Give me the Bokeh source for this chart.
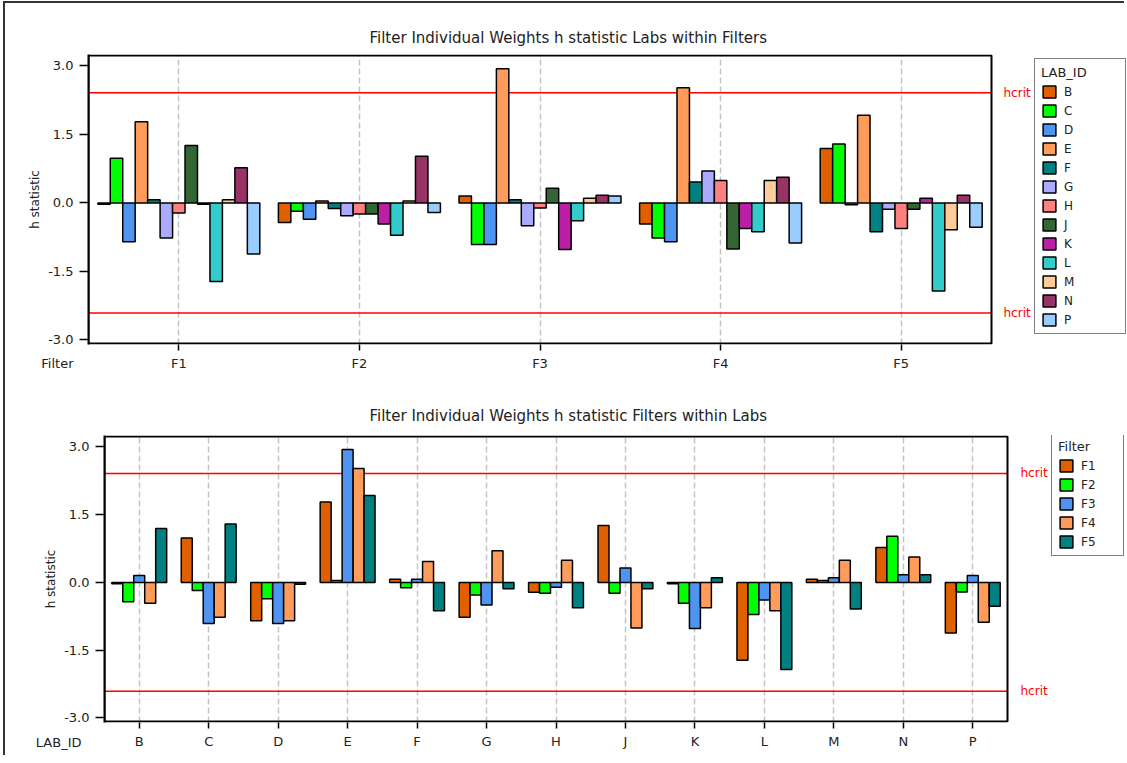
from bokeh.plotting import figure
from bokeh.models import (Range1d, FixedTicker, Legend, Title, Label, BoxAnnotation,
                          LegendItem, CustomJSTickFormatter, PrintfTickFormatter,
                          ColumnDataSource)
from bokeh.transform import dodge
from bokeh.embed import file_html
from bokeh.resources import INLINE

# ---------------- data ----------------
filters = ["F1", "F2", "F3", "F4", "F5"]
labs = ["B", "C", "D", "E", "F", "G", "H", "J", "K", "L", "M", "N", "P"]

# h statistic per lab, in filter order F1..F5
h_B = [-0.03, -0.43, 0.15, -0.46, 1.19]
h_C = [0.98, -0.18, -0.91, -0.77, 1.29]
h_D = [-0.85, -0.36, -0.91, -0.85, -0.04]
h_E = [1.78, 0.04, 2.94, 2.52, 1.92]
h_F = [0.07, -0.12, 0.07, 0.46, -0.63]
h_G = [-0.77, -0.28, -0.50, 0.70, -0.14]
h_H = [-0.22, -0.24, -0.11, 0.49, -0.56]
h_J = [1.26, -0.24, 0.32, -1.01, -0.14]
h_K = [-0.03, -0.46, -1.02, -0.56, 0.10]
h_L = [-1.72, -0.71, -0.39, -0.63, -1.93]
h_M = [0.07, 0.04, 0.10, 0.49, -0.59]
h_N = [0.77, 1.02, 0.17, 0.56, 0.17]
h_P = [-1.12, -0.21, 0.15, -0.88, -0.53]

hcrit = 2.41
y_ticks = [-3.0, -1.5, 0.0, 1.5, 3.0]

title_top = "Filter Individual Weights  h statistic Labs within Filters"
title_bottom = "Filter Individual Weights  h statistic Filters within Labs"

lab_colors = ["#E06000", "#00FF00", "#4F94F0", "#FF9C5C", "#008080", "#AAAAFF",
              "#FF8080", "#336633", "#BB1FA6", "#33CCCC", "#FFCC99", "#993366", "#99CCFF"]

lab_values = [h_B, h_C, h_D, h_E, h_F, h_G, h_H, h_J, h_K, h_L, h_M, h_N, h_P]

FONT = "DejaVu Sans"
TXT = "#222222"
Y0, Y1 = -3.1, 3.25
FIG_W = 1121
BOX_PX = 903          # width of the drawn plot box in pixels


def build(cats, series, values, colors, bar_w, legend_title, legend_label_w, legend_xy,
          frame_left, fig_h, b_top, b_bottom, title, title_off, title_standoff,
          caption, cap_x, cap_y, hcrit_off):
    ncat = len(cats)
    x_end = ncat * (FIG_W - frame_left) / BOX_PX
    p = figure(width=FIG_W, height=fig_h, x_range=Range1d(0, x_end),
               y_range=Range1d(Y0, Y1), title=None, output_backend="svg",
               toolbar_location=None, min_border_left=frame_left, min_border_right=0,
               min_border_top=b_top, min_border_bottom=b_bottom)
    p.outline_line_color = None
    p.ygrid.grid_line_color = None
    centers = [k + 0.5 for k in range(ncat)]

    # axes
    p.xaxis.ticker = FixedTicker(ticks=centers)
    p.xaxis.formatter = CustomJSTickFormatter(args=dict(names=cats),
                                              code="return names[Math.round(tick - 0.5)]")
    p.yaxis.ticker = FixedTicker(ticks=y_ticks)
    p.yaxis.formatter = PrintfTickFormatter(format="%.1f")
    for ax in (p.xaxis[0], p.yaxis[0]):
        ax.major_tick_line_color = "black"
        ax.major_tick_line_width = 1.5
        ax.major_tick_in = 0
        ax.minor_tick_line_color = None
        ax.major_label_text_font = FONT
        ax.major_label_text_font_size = "13px"
        ax.major_label_text_color = TXT
    p.xaxis.axis_line_color = None
    p.yaxis.axis_line_color = "black"
    p.yaxis.axis_line_width = 2
    p.yaxis.major_tick_out = 9
    p.yaxis.major_label_standoff = 6
    p.xaxis.major_tick_out = 6
    p.xaxis.major_label_standoff = 5
    p.yaxis.axis_label = "h statistic"
    p.yaxis.axis_label_text_font = FONT
    p.yaxis.axis_label_text_font_size = "12px"
    p.yaxis.axis_label_text_font_style = "normal"
    p.yaxis.axis_label_standoff = 3
    p.yaxis.axis_label_text_color = TXT

    # dashed category grid
    p.xgrid.ticker = FixedTicker(ticks=centers)
    p.xgrid.grid_line_color = "#c4c4c4"
    p.xgrid.grid_line_dash = "6 3"
    p.xgrid.grid_line_width = 1.5

    # critical value lines
    p.segment(x0=[0, 0], x1=[ncat, ncat], y0=[hcrit, -hcrit], y1=[hcrit, -hcrit],
              line_color="red", line_width=1.5)
    for v in (hcrit, -hcrit):
        p.add_layout(Label(x=ncat, y=v, x_offset=hcrit_off, text="hcrit",
                           text_align="left", text_baseline="middle", text_color="red",
                           text_font=FONT, text_font_size="12px"))

    # bars
    data = dict(xc=centers)
    for s, name in enumerate(series):
        data[name] = [values(s, k) for k in range(ncat)]
    src = ColumnDataSource(data)
    mid = (len(series) - 1) / 2
    items = []
    for s, name in enumerate(series):
        r = p.vbar(x=dodge("xc", (s - mid) * bar_w), top=name, bottom=0, width=bar_w,
                   source=src, fill_color=colors[s], line_color="black", line_width=1.5)
        items.append(LegendItem(label=name, renderers=[r]))

    # plot box
    p.add_layout(BoxAnnotation(left=0, right=ncat, bottom=Y0 + 0.02, top=Y1 - 0.02,
                               fill_color=None, fill_alpha=0, line_color="black",
                               line_alpha=1.0, line_width=2))

    p.add_layout(Legend(items=items, location=legend_xy, title=legend_title,
                        title_text_font=FONT, title_text_font_size="13px",
                        title_text_font_style="normal", title_text_color=TXT,
                        title_standoff=4, label_text_font=FONT, label_text_font_size="12px",
                        label_text_color=TXT, glyph_width=16, glyph_height=15,
                        label_height=15, label_width=legend_label_w, label_standoff=7,
                        spacing=4, padding=6, margin=0, border_line_color="black",
                        border_line_width=1.5, background_fill_color="white",
                        background_fill_alpha=1.0))

    p.add_layout(Title(text=title, align="left", offset=title_off, standoff=title_standoff,
                       text_font=FONT, text_font_size="15px", text_font_style="normal",
                       text_color=TXT), "above")
    p.add_layout(Label(text=caption, x=cap_x, y=cap_y, x_units="screen", y_units="screen",
                       text_align="right", text_baseline="middle", text_font=FONT,
                       text_font_size="13px", text_color=TXT), "above")
    return p


FH1, FH2 = 290, 287

# top chart: labs within filters
p1 = build(filters, labs, lambda s, k: lab_values[s][k], lab_colors, 0.069,
           "LAB_ID", 55, (946, 10), 83, 377, 51, 36, title_top, 281, 16,
           "Filter", -15, -(33.5 + FH1 + 21), 12)

# bottom chart: filters within labs
p2 = build(labs, filters, lambda s, k: lab_values[k][s], lab_colors[:5], 0.158,
           "Filter", 36, (947, 166), 99, 377, 57, 33, title_bottom, 265, 22,
           "LAB_ID", -23, -(39.5 + FH2 + 22.5), 13)

p1.styles = {"margin-left": "3px", "margin-top": "1px",
             "border-left": "2px solid #333333", "border-top": "2px solid #333333"}
p2.styles = {"margin-left": "3px", "border-left": "2px solid #333333"}

open("out.html", "w").write(file_html([p1, p2], INLINE))
